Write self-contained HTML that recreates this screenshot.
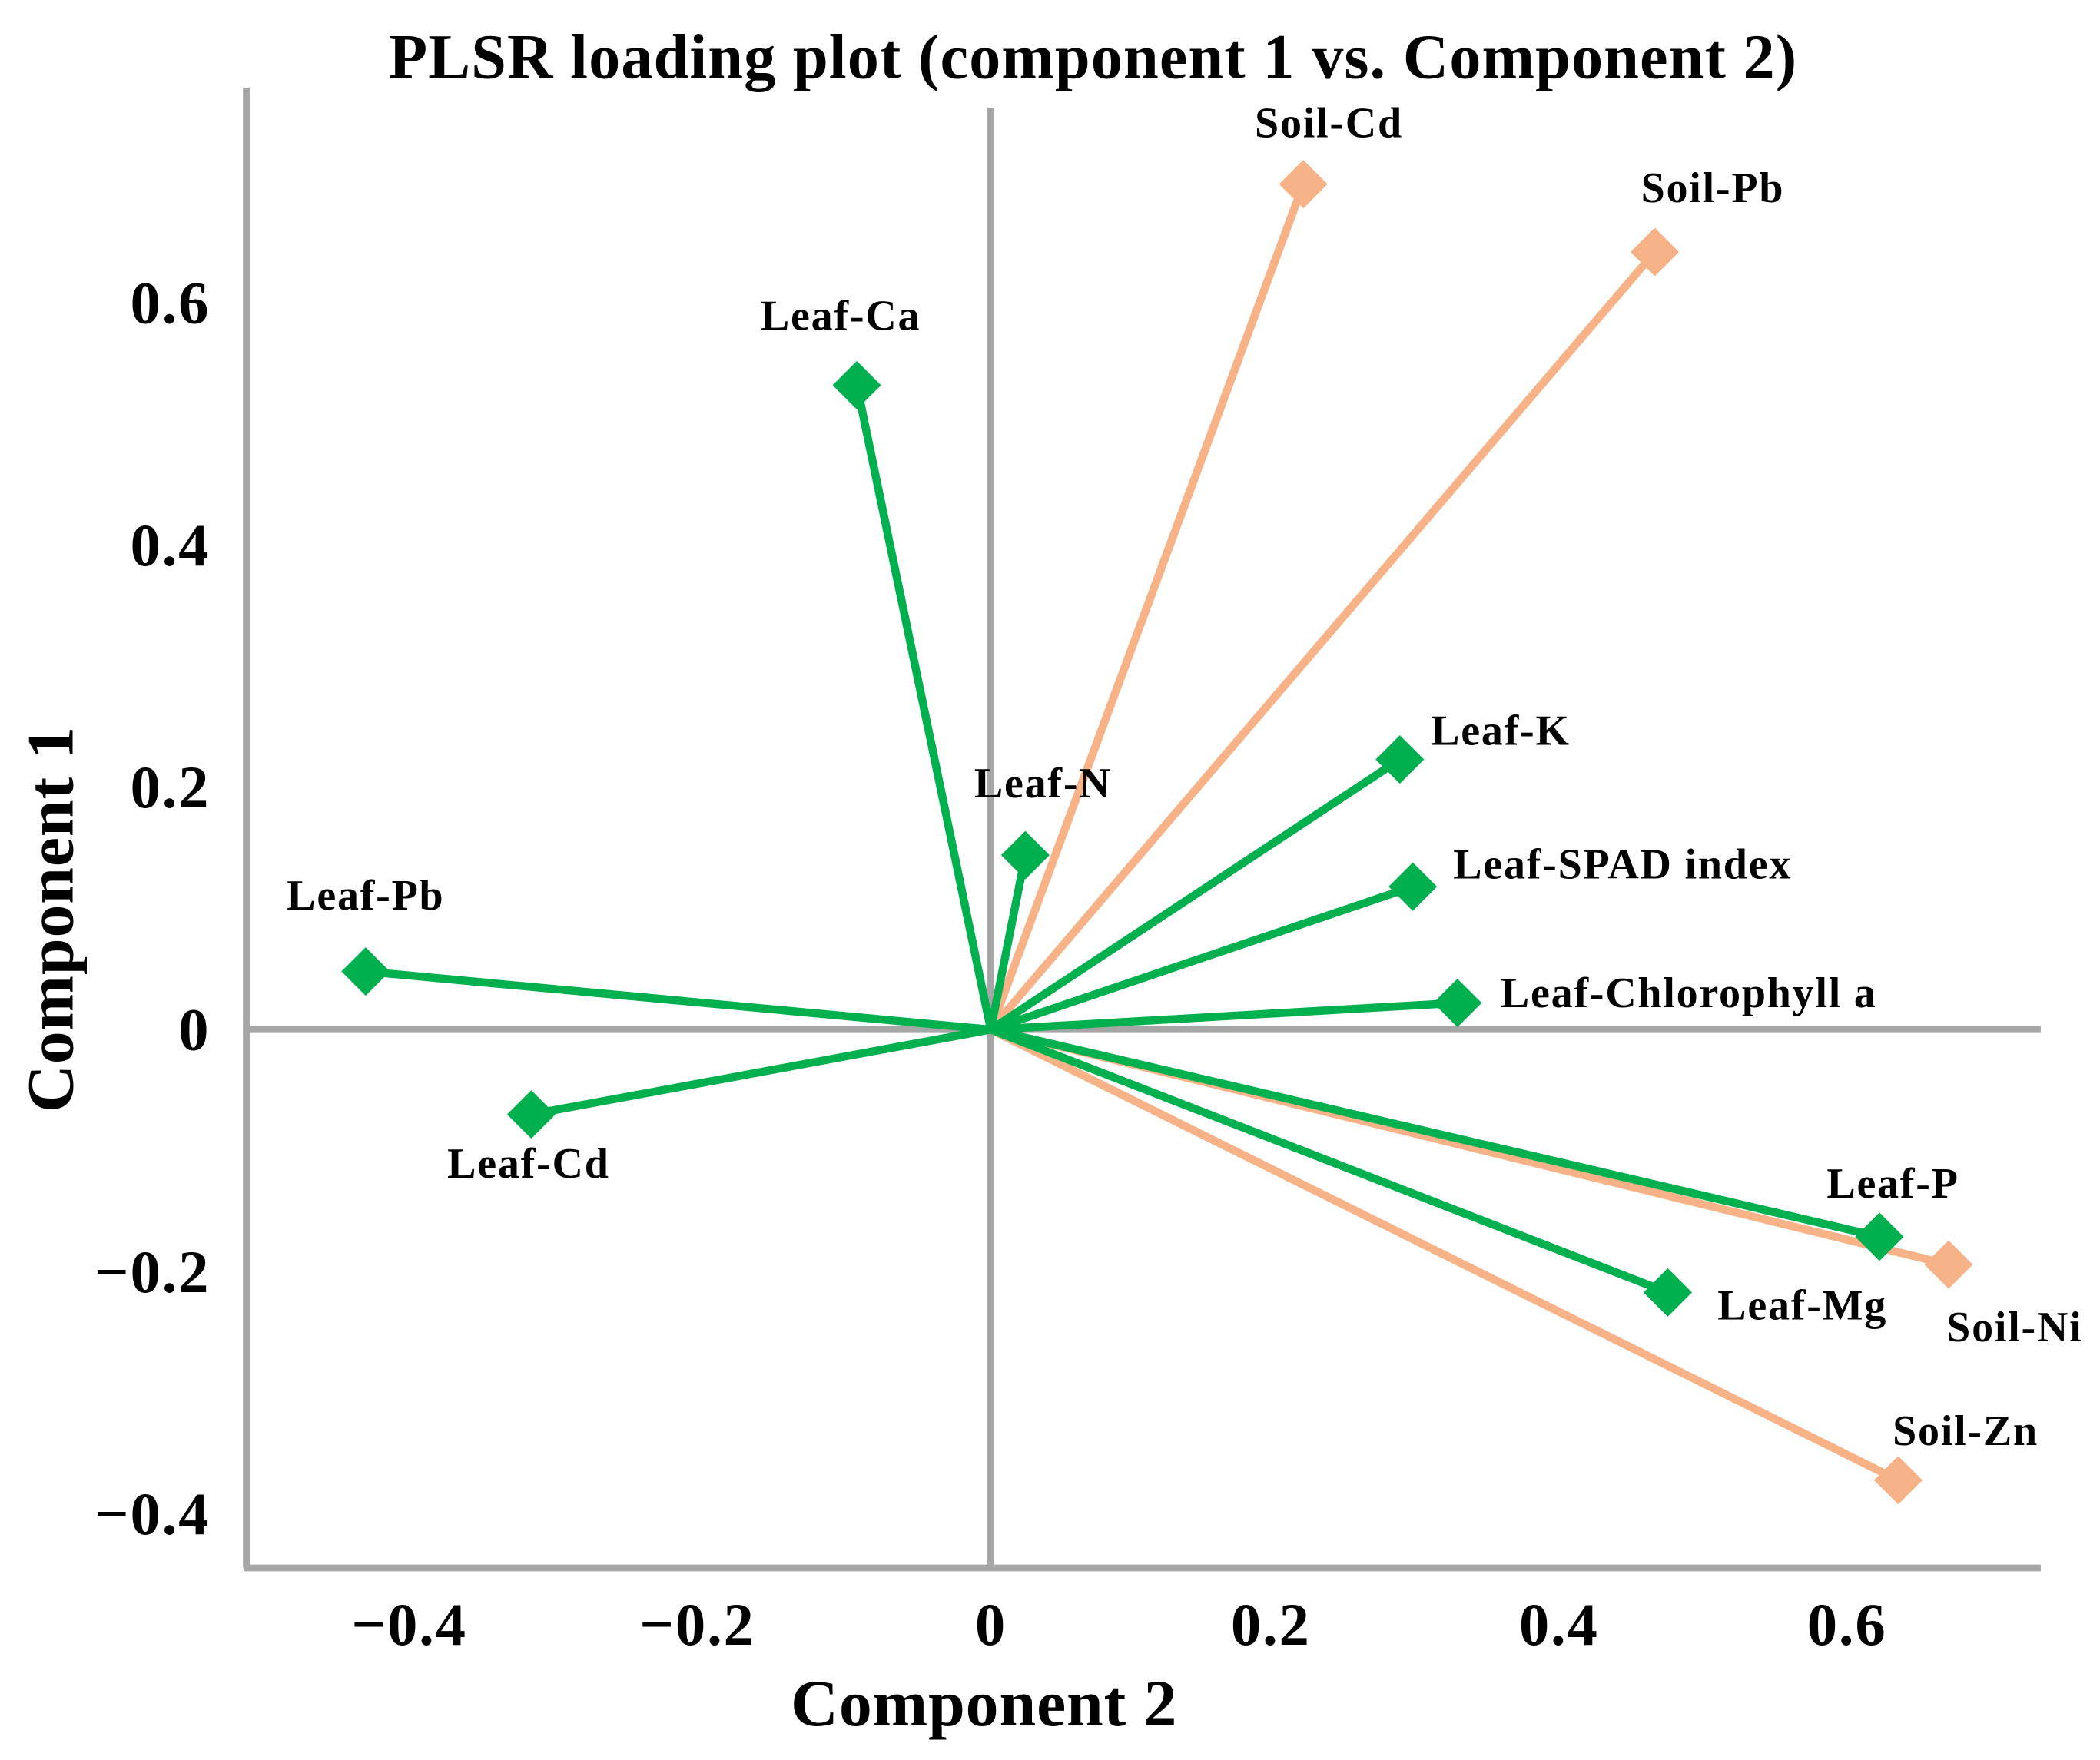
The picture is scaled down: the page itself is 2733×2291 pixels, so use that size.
<!DOCTYPE html>
<html><head><meta charset="utf-8"><style>
html,body{margin:0;padding:0;background:#fff;}
svg{display:block;}
text{font-family:"Liberation Serif",serif;font-weight:bold;fill:#000;}
</style></head><body>
<svg width="2733" height="2291" viewBox="0 0 1560 1307.7" xmlns="http://www.w3.org/2000/svg">
<text x="812" y="58" font-size="47" letter-spacing="0.6" text-anchor="middle">PLSR loading plot (component 1 vs. Component 2)</text>
<g id="axes"></g>
<g id="lines"></g>
<g id="marks"></g>
<g id="labels"></g>
<text x="731" y="1282" font-size="49" letter-spacing="0.5" text-anchor="middle">Component 2</text>
<text x="0" y="0" font-size="49" letter-spacing="0.5" text-anchor="middle" transform="translate(54,683) rotate(-90)">Component 1</text>
</svg>
<script>
const names = ["Soil-Cd","Soil-Pb","Leaf-Ca","Leaf-K","Leaf-N","Leaf-SPAD index","Leaf-Chlorophyll  a","Leaf-Pb","Leaf-Cd","Leaf-P","Soil-Ni","Leaf-Mg","Soil-Zn"];
const comp2 = [0.217,0.461,-0.093,0.284,0.024,0.293,0.324,-0.434,-0.319,0.617,0.665,0.470,0.630];
const comp1 = [0.698,0.642,0.532,0.223,0.144,0.118,0.022,0.048,-0.070,-0.171,-0.194,-0.217,-0.372];
const group = ["soil","soil","leaf","leaf","leaf","leaf","leaf","leaf","leaf","leaf","soil","leaf","soil"];
const xTicks = [-0.4,-0.2,0,0.2,0.4,0.6];
const xTickLabels = ["\u22120.4","\u22120.2","0","0.2","0.4","0.6"];
const yTicks = [-0.4,-0.2,0,0.2,0.4,0.6];
const yTickLabels = ["\u22120.4","\u22120.2","0","0.2","0.4","0.6"];

const lblStyle = [[19,-35,"middle"],[43,-37,"middle"],[-12,-41,"middle"],[23,-11,"start"],[13,-43,"middle"],[30,-6,"start"],[32,3,"start"],[0,-46,"middle"],[-2,47,"middle"],[10,-29,"middle"],[49,57,"middle"],[37,20,"start"],[50,-26,"middle"]];
const X = v => 736 + v*1070;
const Y = v => 765 - v*900;
const NS="http://www.w3.org/2000/svg";
function mk(tag, attrs, parent){const e=document.createElementNS(NS,tag);for(const k in attrs)e.setAttribute(k,attrs[k]);parent.appendChild(e);return e;}
const axes=document.getElementById('axes');
const gray="#a6a6a6";
let e;
e=mk('line',{x1:183,y1:65,x2:183,y2:1165,stroke:gray,'stroke-width':5},axes);

e=mk('line',{x1:181,y1:1165,x2:1516,y2:1165,stroke:gray,'stroke-width':5},axes);

e=mk('line',{x1:X(0),y1:80,x2:X(0),y2:1165,stroke:gray,'stroke-width':5},axes);

e=mk('line',{x1:183,y1:Y(0),x2:1516,y2:Y(0),stroke:gray,'stroke-width':5},axes);

xTicks.forEach((t,i)=>{const el=mk('text',{x:X(t)-(t<0?4:0)-(t>0?6:0),y:1222,'font-size':45,'letter-spacing':1,'text-anchor':'middle'},axes);el.textContent=xTickLabels[i];
});
yTicks.forEach((t,i)=>{const el=mk('text',{x:156,y:Y(t)+15,'font-size':45,'letter-spacing':1,'text-anchor':'end'},axes);el.textContent=yTickLabels[i];
});
const lines=document.getElementById('lines'),marks=document.getElementById('marks'),labels=document.getElementById('labels');
const col={soil:"#f7b287",leaf:"#00b04f"};
const order=[...names.keys()].sort((a,b)=>(group[a]==="soil"?0:1)-(group[b]==="soil"?0:1));
order.forEach(i=>{const el=mk('line',{x1:X(0),y1:Y(0),x2:X(comp2[i]),y2:Y(comp1[i]),stroke:col[group[i]],'stroke-width':6,'stroke-linecap':'round'},lines);
});
order.forEach(i=>{const x=X(comp2[i]),y=Y(comp1[i]),r=18;
const el=mk('polygon',{points:`${x},${y-r} ${x+r},${y} ${x},${y+r} ${x-r},${y}`,fill:col[group[i]]},marks);
});
names.forEach((n,i)=>{const s=lblStyle[i];const el=mk('text',{x:X(comp2[i])+s[0],y:Y(comp1[i])+s[1],'font-size':32,'letter-spacing':1,'text-anchor':s[2],'xml:space':'preserve'},labels);el.textContent=n;
});
</script>
</body></html>
